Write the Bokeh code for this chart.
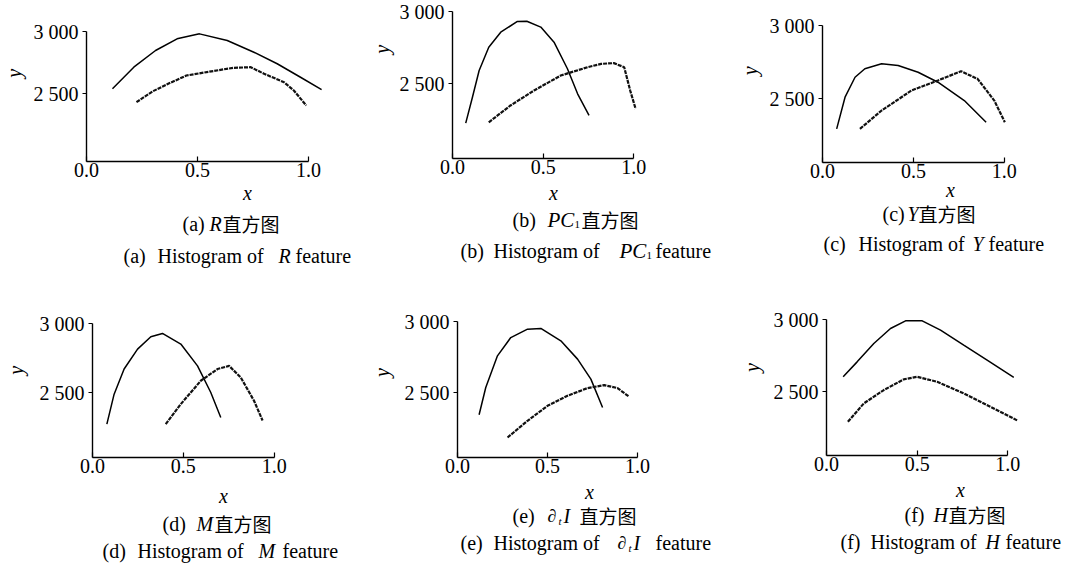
from bokeh.plotting import figure
from bokeh.models import Label, FixedTicker, Range1d, CustomJSTickFormatter
from bokeh.layouts import column, row
from bokeh.embed import file_html
from bokeh.resources import INLINE
import math

SERIF = "Liberation Serif"
CJK = "Noto Sans CJK SC"

# ---------------- data ----------------
x_ticks = [0.0, 0.5, 1.0]
y_ticks = [2500, 3000]

a_solid_x = [0.117, 0.213, 0.311, 0.408, 0.509, 0.634, 0.754, 0.859, 0.964, 1.059]
a_solid_y = [2538, 2712, 2847, 2941, 2981, 2927, 2833, 2740, 2631, 2532]
a_dot_x = [0.225, 0.30, 0.37, 0.45, 0.55, 0.66, 0.74, 0.80, 0.89, 0.934, 0.99]
a_dot_y = [2430, 2519, 2580, 2645, 2675, 2707, 2712, 2659, 2591, 2524, 2403]

b_solid_x = [0.073, 0.11, 0.147, 0.20, 0.266, 0.358, 0.41, 0.487, 0.56, 0.634, 0.69, 0.753]
b_solid_y = [2228, 2407, 2592, 2753, 2857, 2931, 2933, 2892, 2788, 2604, 2431, 2281]
b_dot_x = [0.20, 0.32, 0.45, 0.597, 0.745, 0.82, 0.89, 0.947, 0.98, 1.01]
b_dot_y = [2234, 2350, 2454, 2557, 2615, 2638, 2643, 2615, 2454, 2327]

c_solid_x = [0.078, 0.124, 0.179, 0.233, 0.325, 0.416, 0.526, 0.635, 0.78, 0.90]
c_solid_y = [2295, 2511, 2647, 2705, 2739, 2727, 2681, 2613, 2488, 2340]
c_dot_x = [0.206, 0.325, 0.49, 0.635, 0.762, 0.853, 0.945, 1.003]
c_dot_y = [2295, 2420, 2557, 2625, 2688, 2636, 2488, 2340]

d_solid_x = [0.079, 0.119, 0.174, 0.248, 0.321, 0.385, 0.486, 0.578, 0.651, 0.706]
d_solid_y = [2271, 2488, 2670, 2814, 2904, 2928, 2851, 2693, 2500, 2319]
d_dot_x = [0.403, 0.486, 0.596, 0.688, 0.752, 0.816, 0.889, 0.936]
d_dot_y = [2271, 2416, 2585, 2670, 2693, 2609, 2440, 2297]

e_solid_x = [0.12, 0.157, 0.222, 0.296, 0.389, 0.463, 0.574, 0.667, 0.741, 0.806]
e_solid_y = [2343, 2535, 2758, 2887, 2946, 2951, 2864, 2735, 2594, 2394]
e_dot_x = [0.278, 0.389, 0.50, 0.611, 0.722, 0.815, 0.889, 0.954]
e_dot_y = [2183, 2301, 2406, 2477, 2531, 2552, 2531, 2470]

f_solid_x = [0.092, 0.169, 0.261, 0.353, 0.436, 0.528, 0.629, 0.757, 0.886, 1.033]
f_solid_y = [2604, 2707, 2834, 2938, 2991, 2991, 2926, 2822, 2719, 2600]
f_dot_x = [0.118, 0.206, 0.316, 0.426, 0.50, 0.61, 0.757, 0.905, 1.055]
f_dot_y = [2293, 2420, 2512, 2586, 2604, 2569, 2489, 2396, 2300]

# ---------------- layout (page pixel positions) ----------------
LAYOUT = {
    "a": dict(gx0=0, gy0=0, W=360, yw=28, ax=86, top=31, bottom=161, ppu=222.0, p500=62.0),
    "b": dict(gx0=360, gy0=0, W=370, yw=36, ax=452, top=11, bottom=158, ppu=181.3, p500=72.3),
    "c": dict(gx0=730, gy0=0, W=358, yw=36, ax=821, top=25, bottom=162, ppu=182.7, p500=73.3),
    "d": dict(gx0=0, gy0=282, W=360, yw=30, ax=92, top=323, bottom=457, ppu=181.7, p500=69.0),
    "e": dict(gx0=360, gy0=282, W=370, yw=36, ax=457, top=321, bottom=457, ppu=180.0, p500=71.0),
    "f": dict(gx0=730, gy0=282, W=358, yw=36, ax=826, top=319, bottom=455, ppu=181.3, p500=72.3),
}
H = 282          # height of one panel cell
TICKBAND = 25    # height under the x axis kept for the tick labels
OVERLAP = 16     # the text band is pulled up over the tick band by this much

# text pieces: (page_x, page_y, text, size, style, font)
CAPTIONS = {
    "a": [(182, 223, "(a)", 20, "normal", SERIF), (209, 223, "R", 20, "italic", SERIF),
          (222, 223, "直方图", 19, "normal", CJK),
          (123, 255, "(a)", 20, "normal", SERIF), (157, 255, "Histogram of", 20, "normal", SERIF),
          (278, 255, "R", 20, "italic", SERIF), (295, 255, "feature", 20, "normal", SERIF)],
    "b": [(512, 219, "(b)", 20, "normal", SERIF), (547, 219, "PC", 21, "italic", SERIF),
          (574, 224, "1", 11, "normal", SERIF), (581, 219, "直方图", 19, "normal", CJK),
          (460, 250, "(b)", 20, "normal", SERIF), (493, 250, "Histogram of", 20, "normal", SERIF),
          (619, 250, "PC", 21, "italic", SERIF), (646, 255, "1", 11, "normal", SERIF),
          (655, 250, "feature", 20, "normal", SERIF)],
    "c": [(882, 213, "(c)", 20, "normal", SERIF), (907, 213, "Y", 20, "italic", SERIF),
          (918, 213, "直方图", 19, "normal", CJK),
          (823, 243, "(c)", 20, "normal", SERIF), (858, 243, "Histogram of", 20, "normal", SERIF),
          (972, 243, "Y", 20, "italic", SERIF), (988, 243, "feature", 20, "normal", SERIF)],
    "d": [(162, 523, "(d)", 20, "normal", SERIF), (196, 523, "M", 20, "italic", SERIF),
          (214, 523, "直方图", 19, "normal", CJK),
          (102, 550, "(d)", 20, "normal", SERIF), (137, 550, "Histogram of", 20, "normal", SERIF),
          (258, 550, "M", 20, "italic", SERIF), (282, 550, "feature", 20, "normal", SERIF)],
    "e": [(512, 515, "(e)", 20, "normal", SERIF), (547, 515, "∂", 18, "italic", SERIF),
          (558, 520, "t", 11, "italic", SERIF), (563, 515, "I", 20, "italic", SERIF),
          (579, 515, "直方图", 19, "normal", CJK),
          (460, 542, "(e)", 20, "normal", SERIF), (493, 542, "Histogram of", 20, "normal", SERIF),
          (617, 542, "∂", 18, "italic", SERIF), (628, 547, "t", 11, "italic", SERIF),
          (633, 542, "I", 20, "italic", SERIF), (655, 542, "feature", 20, "normal", SERIF)],
    "f": [(904, 514, "(f)", 20, "normal", SERIF), (933, 514, "H", 20, "italic", SERIF),
          (948, 514, "直方图", 19, "normal", CJK),
          (840, 541, "(f)", 20, "normal", SERIF), (870, 541, "Histogram of", 20, "normal", SERIF),
          (985, 541, "H", 20, "italic", SERIF), (1005, 541, "feature", 20, "normal", SERIF)],
}
XLAB = {"a": (247, 192), "b": (553, 192), "c": (950, 189), "d": (223, 495), "e": (589, 491), "f": (960, 489)}
YLAB = {"a": (13, 60), "b": (381, 47), "c": (749, 62), "d": (15, 352), "e": (381, 357), "f": (751, 352)}

DATA = {
    "a": (a_solid_x, a_solid_y, a_dot_x, a_dot_y),
    "b": (b_solid_x, b_solid_y, b_dot_x, b_dot_y),
    "c": (c_solid_x, c_solid_y, c_dot_x, c_dot_y),
    "d": (d_solid_x, d_solid_y, d_dot_x, d_dot_y),
    "e": (e_solid_x, e_solid_y, e_dot_x, e_dot_y),
    "f": (f_solid_x, f_solid_y, f_dot_x, f_dot_y),
}

Y_FMT = CustomJSTickFormatter(code="""
const s = Math.round(tick).toString();
return s.slice(0, s.length - 3) + ' ' + s.slice(-3);
""")
X_FMT = CustomJSTickFormatter(code="return tick.toFixed(1);")


def blank(width, height, xr, yr, **kw):
    """A figure with no axes whose frame fills it; used to hold text in page coordinates."""
    f = figure(width=width, height=height, x_range=Range1d(*xr), y_range=Range1d(*yr),
               x_axis_location=None, y_axis_location=None,
               min_border_left=0, min_border_right=0, min_border_top=0, min_border_bottom=0,
               output_backend="svg", toolbar_location=None, **kw)
    f.outline_line_color = None
    f.background_fill_color = None
    f.border_fill_color = None
    f.grid.visible = False
    return f


def put(fig, gx, gy, text, size, style, font, align="left", angle=0.0):
    fig.add_layout(Label(x=gx, y=gy, text=text, text_font=font,
                         text_font_size=f"{size}px", text_font_style=style,
                         text_color="black", text_align=align,
                         text_baseline="middle", angle=angle))


def make_panel(key):
    L = LAYOUT[key]
    YW = L["yw"]
    sx, sy, dx, dy = DATA[key]
    top = L["top"] - L["gy0"]
    fh = L["bottom"] - L["top"]
    ht = top + fh + TICKBAND
    left = L["ax"] - L["gx0"] - YW
    fw = round(1.1 * L["ppu"])
    right = L["W"] - YW - left - fw
    ybot = 3000 - fh / L["p500"] * 500

    p = figure(width=L["W"] - YW, height=ht,
               x_range=Range1d(0, fw / L["ppu"]), y_range=Range1d(ybot, 3000),
               min_border_left=left, min_border_right=right,
               min_border_top=top, min_border_bottom=TICKBAND,
               output_backend="svg", toolbar_location=None)
    p.outline_line_color = None
    p.background_fill_color = "white"
    p.border_fill_color = "white"
    p.xgrid.grid_line_color = None
    p.ygrid.grid_line_color = None

    xa = p.xaxis[0]
    xa.ticker = FixedTicker(ticks=x_ticks)
    xa.formatter = X_FMT
    xa.bounds = (0, 1)
    xa.major_tick_in = 5
    xa.major_tick_out = 0
    xa.minor_tick_line_color = None
    xa.major_label_standoff = 1

    ya = p.yaxis[0]
    ya.ticker = FixedTicker(ticks=y_ticks)
    ya.formatter = Y_FMT
    ya.major_tick_in = 0
    ya.major_tick_out = 4
    ya.minor_tick_line_color = None
    ya.major_label_standoff = 4

    for ax in (xa, ya):
        ax.axis_line_color = "black"
        ax.axis_line_width = 1.4
        ax.major_tick_line_color = "black"
        ax.major_tick_line_width = 1.2
        ax.major_label_text_font = SERIF
        ax.major_label_text_font_size = "20px"
        ax.major_label_text_color = "black"

    p.line(sx, sy, line_color="black", line_width=1.5)
    p.line(dx, dy, line_color="#111111", line_width=2.2, line_dash="4 1")

    # strip with the y label (page coordinates, y grows downward)
    yfig = blank(YW, ht, (L["gx0"], L["gx0"] + YW), (L["gy0"] + ht, L["gy0"]))
    gx, gy = YLAB[key]
    put(yfig, gx, gy, "y", 20, "italic", SERIF, align="center", angle=math.pi / 2)

    # transparent band under the plot with the x label and the two captions,
    # pulled up a little over the tick-label band
    ctop = L["gy0"] + ht - OVERLAP
    cfig = blank(L["W"], H - ht + OVERLAP, (L["gx0"], L["gx0"] + L["W"]),
                 (L["gy0"] + H, ctop), margin=(-OVERLAP, 0, 0, 0))
    gx, gy = XLAB[key]
    put(cfig, gx, gy, "x", 20, "italic", SERIF, align="center")
    for gx, gy, t, s, st, fnt in CAPTIONS[key]:
        put(cfig, gx, gy, t, s, st, fnt)

    return column(row(yfig, p, spacing=0), cfig, spacing=0)


layout = column(
    row(make_panel("a"), make_panel("b"), make_panel("c"), spacing=0),
    row(make_panel("d"), make_panel("e"), make_panel("f"), spacing=0),
    spacing=0,
)

open("out.html", "w").write(file_html(layout, INLINE))
